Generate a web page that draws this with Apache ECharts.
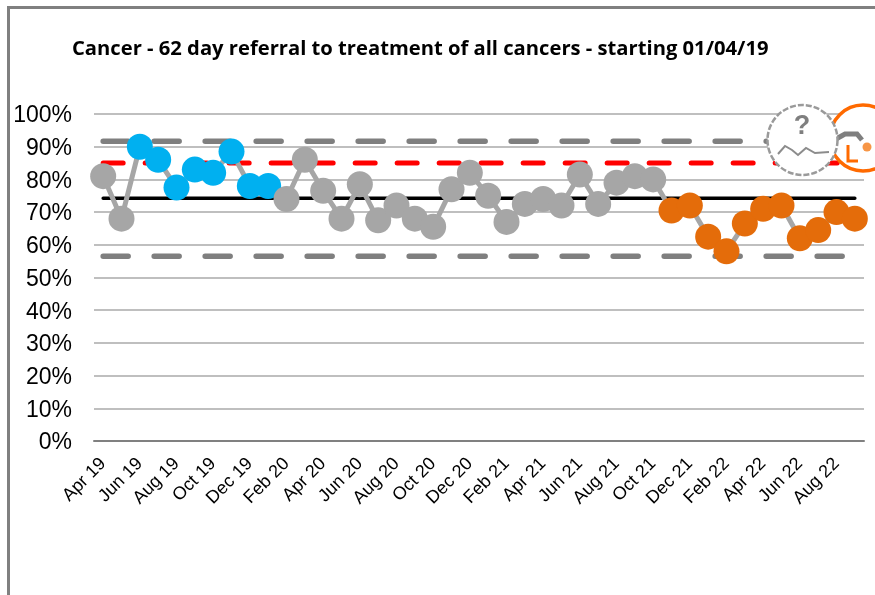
<!DOCTYPE html>
<html><head><meta charset="utf-8">
<style>html,body{margin:0;padding:0;background:#fff}#c{width:875px;height:595px}</style>
<script src="https://cdn.jsdelivr.net/npm/echarts@6/dist/echarts.min.js"></script>
</head><body><div id="c"></div>
<script>
const categories = ["Apr 19","May 19","Jun 19","Jul 19","Aug 19","Sep 19","Oct 19","Nov 19","Dec 19","Jan 20","Feb 20","Mar 20","Apr 20","May 20","Jun 20","Jul 20","Aug 20","Sep 20","Oct 20","Nov 20","Dec 20","Jan 21","Feb 21","Mar 21","Apr 21","May 21","Jun 21","Jul 21","Aug 21","Sep 21","Oct 21","Nov 21","Dec 21","Jan 22","Feb 22","Mar 22","Apr 22","May 22","Jun 22","Jul 22","Aug 22","Sep 22"];
const values = [81,68,90,86,77.5,83,82,88.5,78,78,74,86,76.5,68,78.5,67.5,72,68,65.5,77,82,75,67,72.5,74,72,81.5,72.5,79,81,80,70.5,72,62.5,58,66.5,71,72,62,64.5,70,68];
const pointState = ["n","n","h","h","h","h","h","h","h","h","n","n","n","n","n","n","n","n","n","n","n","n","n","n","n","n","n","n","n","n","n","l","l","l","l","l","l","l","l","l","l","l"];
const meanValue = 74.2, upperLimit = 91.7, lowerLimit = 56.5, targetValue = 85;
const stateColor = {n:"#A6A6A6", h:"#00B0F0", l:"#E46C0A"};
const fill = v => categories.map(() => v);
const flat = (name, v, color, width, dash) => ({
  name, type:"line", data:fill(v), symbol:"none", silent:true, z:2,
  lineStyle:{color, width, type:dash, cap:"round"}
});
const chart = echarts.init(document.getElementById("c"), null, {renderer:"canvas"});
chart.setOption({
  animation:false,
  backgroundColor:"#fff",
  title:{text:"Cancer - 62 day referral to treatment of all cancers - starting 01/04/19",
    left:67, top:34, textStyle:{fontFamily:"Open Sans", fontWeight:"bold", fontSize:20.2, color:"#000"}},
  grid:{left:94, top:114, width:770, height:327},
  xAxis:{type:"category", data:categories, boundaryGap:true,
    axisTick:{show:false},
    axisLine:{lineStyle:{color:"#808080", width:2}},
    axisLabel:{interval:1, rotate:45, fontFamily:"Liberation Sans", fontSize:18, color:"#000", margin:20},
    splitLine:{show:false}},
  yAxis:{type:"value", min:0, max:1, interval:0.1,
    axisLine:{show:false}, axisTick:{show:false},
    axisLabel:{formatter:v=>Math.round(v*100)+"%", fontFamily:"Liberation Sans", fontSize:23, color:"#000", margin:22, verticalAlign:"top", lineHeight:4},
    splitLine:{lineStyle:{color:"#BFBFBF", width:2}}},
  series:[
    flat("Upper limit", upperLimit/100, "#7F7F7F", 5.5, [25,26]),
    flat("Lower limit", lowerLimit/100, "#7F7F7F", 5.5, [25,26]),
    flat("Target", targetValue/100, "#FF0000", 5, [20,22]),
    flat("Mean", meanValue/100, "#000000", 3.5, "solid"),
    {name:"Performance", type:"line", z:5,
     data:values.map((v,i)=>({value:v/100, itemStyle:{color:stateColor[pointState[i]]}})),
     symbol:"circle", symbolSize:26, showAllSymbol:true,
     lineStyle:{color:"#A6A6A6", width:5}, silent:true}
  ],
  graphic:[
    {type:"rect", shape:{x:8.5,y:7.5,width:900,height:700}, style:{fill:"none",stroke:"#808080",lineWidth:3}, z:0},
    {type:"circle", shape:{cx:863,cy:138,r:33}, style:{fill:"#fff",stroke:"#FF6A00",lineWidth:3.5}, z:20},
    {type:"polyline", shape:{points:[[836,139],[845,134],[851,134],[857,134],[862,140]]}, style:{fill:"none",stroke:"#7F7F7F",lineWidth:5}, z:21},
    {type:"circle", shape:{cx:867,cy:147,r:4.5}, style:{fill:"#F79646"}, z:21},
    {type:"polyline", shape:{points:[[848,145],[848,161],[858,161]]}, style:{fill:"none",stroke:"#FF6A00",lineWidth:3}, z:21},
    {type:"circle", shape:{cx:802.5,cy:140,r:35}, style:{fill:"#fff",stroke:"#9A9A9A",lineWidth:2.5,lineDash:[6,2]}, z:22},
    {type:"polyline", shape:{points:[[778,154],[785,146],[792,150],[798,155],[806,148],[815,153],[829,152]]}, style:{fill:"none",stroke:"#8C8C8C",lineWidth:2}, z:23},
    {type:"text", style:{x:802,y:127,text:"?",fill:"#7F7F7F",font:"bold 27px Liberation Sans",align:"center",verticalAlign:"middle"}, z:23}
  ]
});
</script></body></html>
